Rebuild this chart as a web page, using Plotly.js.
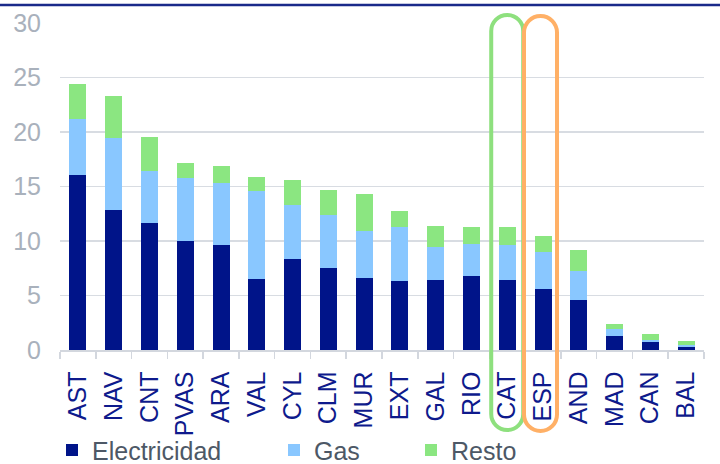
<!DOCTYPE html>
<html>
<head>
<meta charset="utf-8">
<script src="https://cdn.plot.ly/plotly-3.0.1.min.js"></script>
<style>html,body{margin:0;padding:0;background:#fff;}#chart{width:720px;height:464px;}</style>
</head>
<body>
<div id="chart"></div>
<script>
const regions = ["AST","NAV","CNT","PVAS","ARA","VAL","CYL","CLM","MUR","EXT","GAL","RIO","CAT","ESP","AND","MAD","CAN","BAL"];
// stacked component values
const electricidad = [16.05,12.84,11.62,10.03,9.60,6.51,8.32,7.52,6.64,6.30,6.42,6.76,6.39,5.60,4.61,1.31,0.76,0.30];
const gas          = [5.10,6.64,4.77,5.78,5.75,8.05,4.98,4.87,4.28,4.98,3.03,2.93,3.21,3.42,2.67,0.65,0.12,0.13];
const resto        = [3.28,3.82,3.18,1.35,1.50,1.34,2.27,2.26,3.39,1.44,1.93,1.57,1.66,1.44,1.92,0.43,0.62,0.37];
const seriesNames  = ["Electricidad","Gas","Resto"];
const seriesColors = ["#001489","#89C7FF","#8BE681"];
const legendIds    = ["legend","legend2","legend3"];

const font = "Liberation Sans, Arial, sans-serif";
const traces = [electricidad, gas, resto].map((vals, i) => ({
  type: "bar",
  x: regions,
  y: vals,
  name: seriesNames[i],
  legend: legendIds[i],
  marker: {color: seriesColors[i], line: {width: 0}},
  hoverinfo: "x+y+name"
}));

function oval(idx, dx, r, topPx, botPx, color) {
  // pixel path relative to (category center, plot bottom); y positive upward
  const k = 0.5523 * r;
  const top = 350 - topPx, bot = 350 - botPx;
  const tc = top - r, bc = bot + r;
  const p = (x, y) => (x + dx) + "," + y;
  const path = "M" + p(-r, bc) + " L" + p(-r, tc) +
    " C" + p(-r, tc + k) + " " + p(-k, top) + " " + p(0, top) +
    " C" + p(k, top) + " " + p(r, tc + k) + " " + p(r, tc) +
    " L" + p(r, bc) +
    " C" + p(r, bc - k) + " " + p(k, bot) + " " + p(0, bot) +
    " C" + p(-k, bot) + " " + p(-r, bc - k) + " " + p(-r, bc) + " Z";
  return {
    type: "path", xref: "paper", yref: "paper",
    xsizemode: "pixel", ysizemode: "pixel",
    xanchor: (idx + 0.5) / regions.length, yanchor: 0,
    path: path, line: {color: color, width: 4}, fillcolor: "rgba(0,0,0,0)", layer: "above"
  };
}

function legendAt(xPx) {
  return {
    orientation: "h", x: (xPx - 60) / 644, xanchor: "left", y: -0.377, yanchor: "bottom",
    font: {family: font, size: 25, color: "#4D5866"},
    itemclick: false, bgcolor: "rgba(0,0,0,0)"
  };
}

const layout = {
  width: 720, height: 464,
  margin: {l: 60, r: 16, t: 23, b: 114, pad: 0, autoexpand: false},
  paper_bgcolor: "#ffffff", plot_bgcolor: "#ffffff",
  barmode: "stack",
  bargap: 0.525,
  font: {family: font},
  showlegend: true,
  legend: legendAt(52),
  legend2: legendAt(274),
  legend3: legendAt(411),
  xaxis: {
    type: "category", automargin: false,
    tickangle: -90,
    tickfont: {family: font, size: 25, color: "#0E1A8C"},
    ticks: "outside", tickson: "boundaries", ticklen: 7, tickcolor: "#D3D7DE", tickwidth: 1.5,
    showline: true, linecolor: "#D3D7DE", linewidth: 1.5,
    showgrid: false, ticklabelstandoff: 10
  },
  yaxis: {
    range: [0, 30], dtick: 5, tick0: 0, automargin: false,
    tickfont: {family: font, size: 25, color: "#A9B1BC"},
    showgrid: true, gridcolor: "#D8DCE2", gridwidth: 1.5,
    zeroline: false, showline: false, ticks: "",
    ticklabelstandoff: 18
  },
  shapes: [
    {type: "line", xref: "paper", yref: "paper", x0: -60/644, x1: 660/644, y0: 345/327, y1: 345/327,
     line: {color: "#1A2A8A", width: 2.5}},
    oval(12, 0, 16, 15, 430, "#8EE07E"),
    oval(13, -2.5, 16.5, 16, 431, "#FFB066")
  ]
};

Plotly.newPlot("chart", traces, layout, {displayModeBar: false, staticPlot: true});
</script>
</body>
</html>
